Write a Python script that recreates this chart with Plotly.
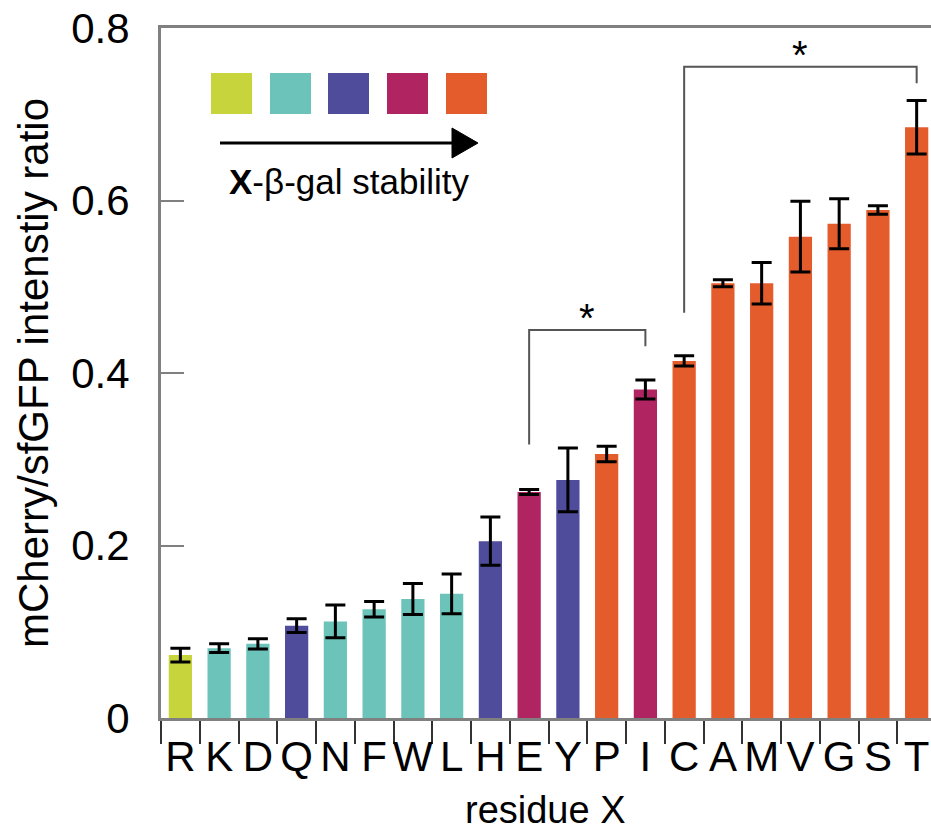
import plotly.graph_objects as go

residues = ["R", "K", "D", "Q", "N", "F", "W", "L", "H", "E",
            "Y", "P", "I", "C", "A", "M", "V", "G", "S", "T"]
ratio = [0.073, 0.081, 0.086, 0.107, 0.112, 0.126, 0.138, 0.144, 0.205, 0.262,
         0.276, 0.306, 0.381, 0.414, 0.504, 0.504, 0.558, 0.573, 0.589, 0.685]
err = [0.008, 0.005, 0.006, 0.008, 0.019, 0.009, 0.018, 0.023, 0.028, 0.003,
       0.037, 0.009, 0.011, 0.006, 0.004, 0.024, 0.041, 0.029, 0.005, 0.031]
stability_class = [0, 1, 1, 2, 1, 1, 1, 1, 2, 3,
                   2, 4, 3, 4, 4, 4, 4, 4, 4, 4]
class_colors = ["#c8d43c", "#6cc3b9", "#4e4c9b", "#b02462", "#e55c2c"]
y_ticks = [0, 0.2, 0.4, 0.6, 0.8]
y_tick_text = ["0", "0.2", "0.4", "0.6", "0.8"]

# significance brackets: (left index, right index, top, left-leg bottom, right-leg bottom)
brackets = [(9, 12, 0.450, 0.317, 0.431), (13, 19, 0.755, 0.470, 0.736)]

W, H = 931, 833
L, T, B, R = 161, 28, 115, 0

FONT = "Liberation Sans, Arial, sans-serif"

fig = go.Figure()
fig.add_trace(go.Bar(
    x=residues, y=ratio,
    marker=dict(color=[class_colors[c] for c in stability_class], line=dict(width=0)),
    width=0.6,
    error_y=dict(type="data", array=err, color="black", thickness=3, width=10),
    showlegend=False,
))

shapes = []
annotations = []
for (a, b, top, lb, rb) in brackets:
    shapes.append(dict(type="path", xref="x", yref="y",
                       path=f"M {a},{lb} L {a},{top} L {b},{top} L {b},{rb}",
                       line=dict(color="#555555", width=2)))
    annotations.append(dict(x=(a + b) / 2, y=top, xref="x", yref="y", text="*",
                            showarrow=False, yanchor="bottom", yshift=-12,
                            font=dict(family=FONT, size=40, color="black")))

def px(xp):
    return (xp - L) / (W - L - R)

def py(yp):
    return (H - B - yp) / (H - B - T)

# colour key squares
sq_left = [211, 270, 328, 387, 446]
for i, c in enumerate(class_colors):
    shapes.append(dict(type="rect", xref="paper", yref="paper",
                       x0=px(sq_left[i]), x1=px(sq_left[i] + 41),
                       y0=py(114), y1=py(73),
                       fillcolor=c, line=dict(width=0)))
# arrow
shapes.append(dict(type="line", xref="paper", yref="paper",
                   x0=px(220), x1=px(455), y0=py(143), y1=py(143),
                   line=dict(color="black", width=3)))
shapes.append(dict(type="path", xref="paper", yref="paper",
                   path=f"M {px(452)},{py(128)} L {px(478)},{py(143)} L {px(452)},{py(158)} Z",
                   fillcolor="black", line=dict(color="black", width=1)))
annotations.append(dict(x=px(349), y=py(181), xref="paper", yref="paper",
                        text="<b>X</b>-β-gal stability", showarrow=False,
                        xanchor="center", yanchor="middle",
                        font=dict(family=FONT, size=35, color="black")))
# x-axis title
annotations.append(dict(x=px(545), y=py(810), xref="paper", yref="paper",
                        text="residue X", showarrow=False,
                        xanchor="center", yanchor="middle",
                        font=dict(family=FONT, size=38, color="black")))

fig.update_layout(
    width=W, height=H,
    margin=dict(l=L, r=R, t=T, b=B, pad=0),
    paper_bgcolor="white", plot_bgcolor="white",
    font=dict(family=FONT, color="black"),
    bargap=0.4,
    shapes=shapes,
    annotations=annotations,
    xaxis=dict(
        type="category", range=[-0.5, 19.37],
        tickmode="linear", tick0=0, dtick=1, tickangle=0,
        tickson="boundaries", ticks="outside", ticklen=23, tickwidth=2,
        tickcolor="#333333",
        showline=True, linecolor="#808080", linewidth=3, mirror=True,
        showgrid=False, zeroline=False,
        tickfont=dict(family=FONT, size=42, color="black"),
        automargin=False,
    ),
    yaxis=dict(
        range=[0, 0.8], tickvals=y_ticks, ticktext=y_tick_text,
        ticks="inside", ticklen=23, tickwidth=2, tickcolor="#808080",
        showline=True, linecolor="#808080", linewidth=3,
        showgrid=False, zeroline=False,
        tickfont=dict(family=FONT, size=42, color="black"),
        ticklabelstandoff=20,
        title=dict(text="mCherry/sfGFP intenstiy ratio",
                   font=dict(family=FONT, size=42, color="black"), standoff=10),
        automargin=False,
    ),
)

fig.write_html("out.html")
